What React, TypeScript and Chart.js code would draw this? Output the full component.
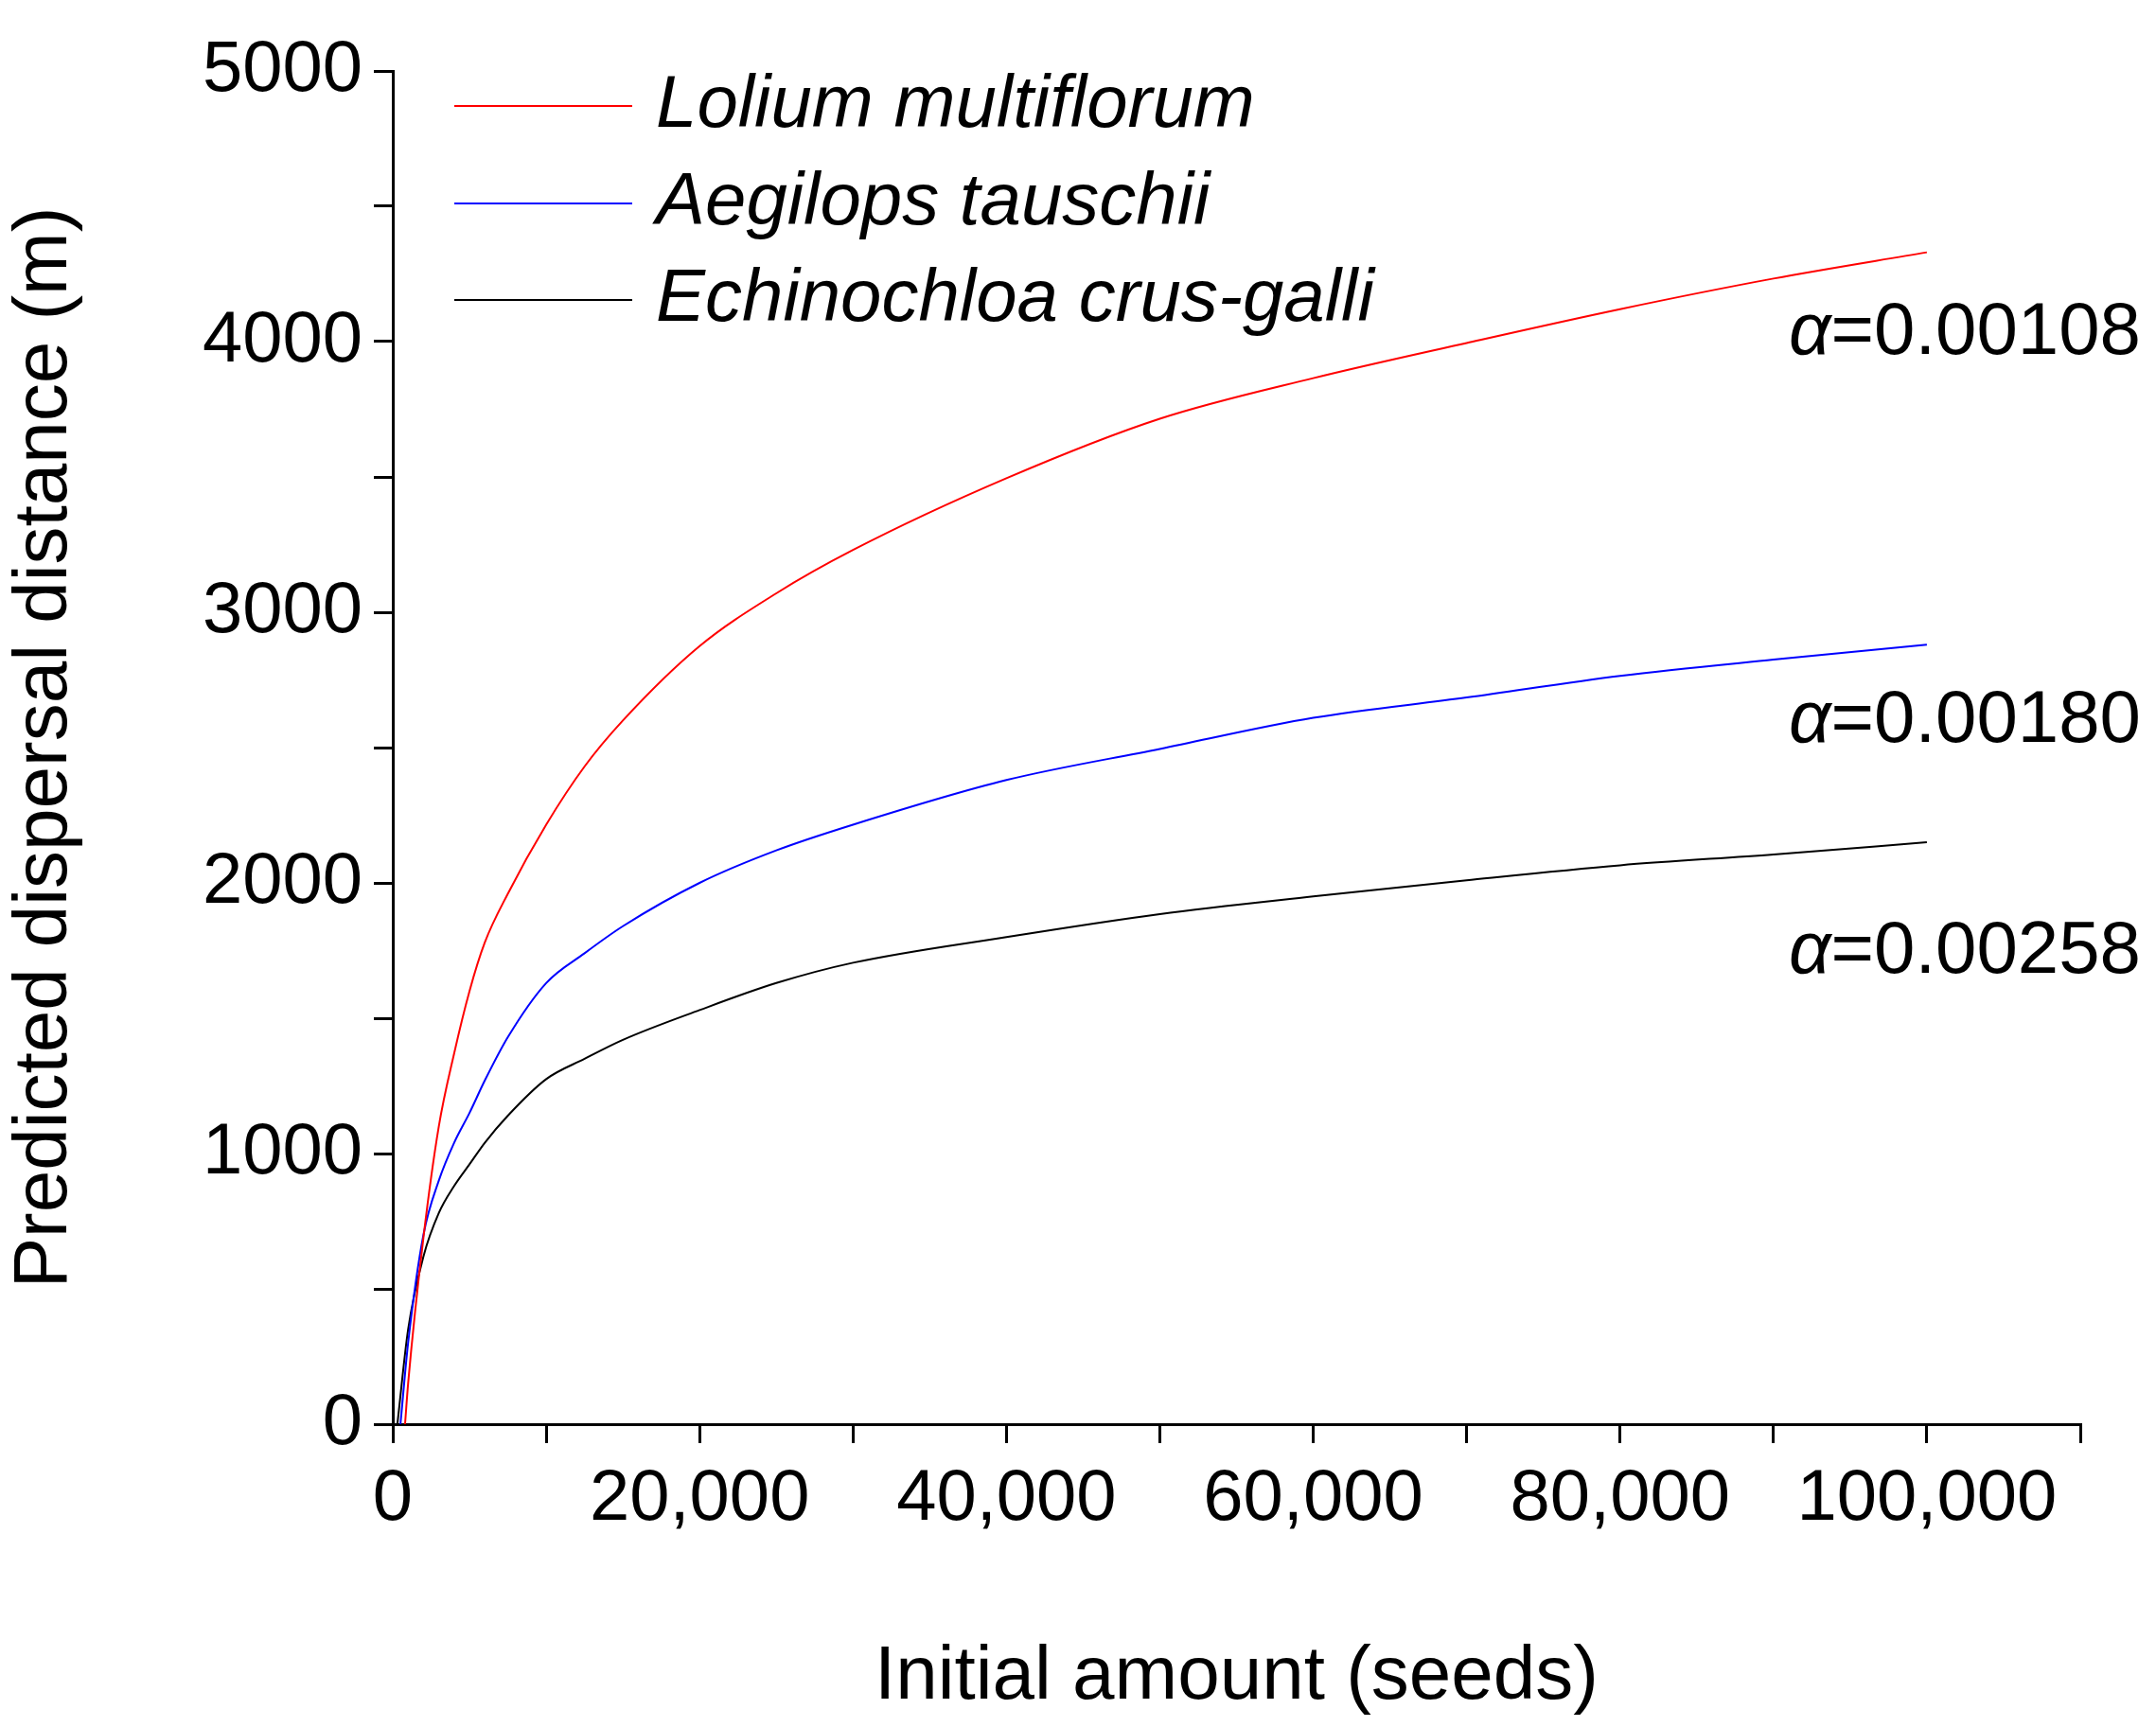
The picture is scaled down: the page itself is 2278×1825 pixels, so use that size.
import React, { useEffect, useRef } from "react";
import { Chart, registerables } from "chart.js";
Chart.register(...registerables);

const seeds = [800, 1000, 2000, 3000, 4000, 5000, 6000, 7500, 10000, 12500, 15000, 20000, 25000, 30000, 40000, 50000, 60000, 70000, 80000, 90000, 100000];
const lolium = [0, 150, 690, 1100, 1370, 1600, 1780, 1960, 2215, 2430, 2600, 2875, 3070, 3230, 3495, 3715, 3865, 3995, 4120, 4233, 4330];
const seedsB = [500, 1000, 2000, 3000, 4000, 5000, 6000, 7500, 10000, 12500, 15000, 20000, 25000, 30000, 40000, 50000, 60000, 70000, 80000, 90000, 100000];
const aegilops = [0, 300, 700, 900, 1040, 1150, 1270, 1430, 1630, 1740, 1840, 2000, 2120, 2215, 2380, 2495, 2610, 2685, 2765, 2825, 2880];
const seedsC = [300, 1000, 2000, 3000, 4000, 5000, 6000, 7500, 10000, 12500, 15000, 20000, 25000, 30000, 40000, 50000, 60000, 70000, 80000, 90000, 100000];
const echino = [0, 350, 620, 780, 880, 960, 1040, 1140, 1275, 1350, 1420, 1530, 1630, 1705, 1800, 1885, 1950, 2010, 2065, 2105, 2150];
const names = ["Lolium multiflorum", "Aegilops tauschii", "Echinochloa crus-galli"];
const colors = ["#ff0000", "#0000ff", "#000000"];
const alphas = ["0.00108", "0.00180", "0.00258"];
const alphaY = [4030, 2597, 1743];

const FONT = "Arimo, 'Liberation Sans', Arial, sans-serif";

export default function App() {
  const ref = useRef<HTMLCanvasElement>(null);
  useEffect(() => {
    document.body.style.margin = "0";
    const mk = (xs: number[], ys: number[]) => xs.map((x, i) => ({ x, y: ys[i] }));
    const overlay = {
      id: "overlay",
      afterDraw(chart: any) {
        const ctx = chart.ctx;
        ctx.save();
        const rows = [112, 215, 317];
        rows.forEach((y, i) => {
          ctx.strokeStyle = colors[i];
          ctx.lineWidth = 2;
          ctx.beginPath();
          ctx.moveTo(480, y);
          ctx.lineTo(668, y);
          ctx.stroke();
          ctx.fillStyle = "#000";
          ctx.font = `italic 78px ${FONT}`;
          ctx.textBaseline = "middle";
          ctx.textAlign = "left";
          ctx.fillText(names[i], 693, y);
        });
        const ys = chart.scales.y;
        alphas.forEach((a, i) => {
          const y = ys.getPixelForValue(alphaY[i]);
          ctx.textBaseline = "middle";
          ctx.font = `78px ${FONT}`;
          const rest = "=" + a;
          const wRest = ctx.measureText(rest).width;
          ctx.textAlign = "left";
          const right = 2262;
          ctx.fillText(rest, right - wRest, y);
          ctx.font = `italic 78px ${FONT}`;
          const wA = ctx.measureText("α").width;
          ctx.fillText("α", right - wRest - wA, y);
        });
        ctx.restore();
      },
    };
    const chart = new Chart(ref.current!, {
      type: "scatter",
      data: {
        datasets: [
          { data: mk(seeds, lolium), borderColor: colors[0] },
          { data: mk(seedsB, aegilops), borderColor: colors[1] },
          { data: mk(seedsC, echino), borderColor: colors[2] },
        ].map((d) => ({ ...d, showLine: true, pointRadius: 0, borderWidth: 2, cubicInterpolationMode: "monotone" as const })),
      },
      options: {
        animation: false,
        responsive: false,
        layout: { padding: { top: 75, right: 80, left: 0, bottom: 0 } },
        plugins: { legend: { display: false }, tooltip: { enabled: false } },
        scales: {
          x: {
            type: "linear",
            min: 0,
            max: 110000,
            afterFit: (s: any) => { s.height = 320; },
            ticks: {
              stepSize: 10000,
              maxRotation: 0,
              autoSkip: false,
              color: "#000",
              padding: 14,
              font: { size: 76, family: FONT },
              callback: (v: any) => (v % 20000 === 0 && v <= 100000 ? (v === 0 ? "0" : Number(v).toLocaleString("en-US")) : ""),
            },
            grid: { drawOnChartArea: false, tickLength: 20, color: "#000", lineWidth: 3 },
            border: { color: "#000", width: 3 },
            title: { display: true, text: "Initial amount (seeds)", color: "#000", font: { size: 80, family: FONT }, padding: { top: 40 } },
          },
          y: {
            min: 0,
            max: 5000,
            afterFit: (s: any) => { s.width = 415; },
            ticks: {
              stepSize: 500,
              autoSkip: false,
              color: "#000",
              padding: 12,
              font: { size: 76, family: FONT },
              callback: (v: any) => (v % 1000 === 0 ? String(v) : ""),
            },
            grid: { drawOnChartArea: false, tickLength: 20, color: "#000", lineWidth: 3 },
            border: { color: "#000", width: 3 },
            title: { display: true, text: "Predicted dispersal distance (m)", color: "#000", font: { size: 80, family: FONT }, padding: { top: 0, bottom: 30 } },
          },
        },
      },
      plugins: [overlay],
    });
    return () => chart.destroy();
  }, []);
  return <canvas ref={ref} width={2278} height={1825} style={{ display: "block" }} />;
}
